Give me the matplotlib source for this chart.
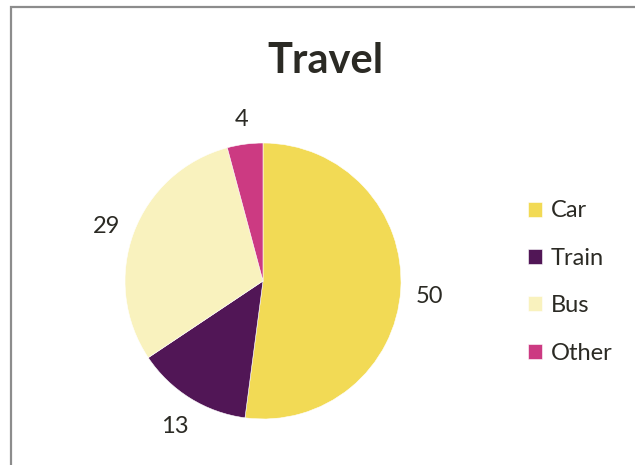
import matplotlib.pyplot as plt
from matplotlib.patches import Rectangle

categories = ['Car', 'Train', 'Bus', 'Other']
values = [50, 13, 29, 4]
colors = ['#f2da55', '#511656', '#f9f2be', '#cc3a82']
title = 'Travel'

plt.rcParams['font.family'] = ['Lato', 'DejaVu Sans']
text_color = '#2b2a24'

fig = plt.figure(figsize=(6.35, 4.65), dpi=100)

# chart border (gray frame, runs off the right and bottom of the image)
fig.patches.append(Rectangle((11 / 635, -0.05), 1.2, 1.05 - 7.5 / 465,
                             transform=fig.transFigure, fill=False,
                             edgecolor='#8c8c8c', linewidth=1.6))

ax = fig.add_axes([125 / 635, 46 / 465, 276 / 635, 276 / 465])
wedges, texts = ax.pie(values, colors=colors, labels=[str(v) for v in values],
                       startangle=90, counterclock=False, labeldistance=1.21,
                       wedgeprops=dict(edgecolor='white', linewidth=0.4),
                       textprops=dict(fontsize=17, color=text_color))
for t in texts:
    t.set_horizontalalignment('center')
    t.set_verticalalignment('center')
    x, y = t.get_position()
    t.set_position((x, y - 0.03))
ax.set_xlim(-1, 1)
ax.set_ylim(-1, 1)
ax.set_aspect('equal')

fig.text(325 / 635, 1 - 61 / 465, title, ha='center', va='center',
         fontsize=30, fontweight='bold', color=text_color)

fig.legend(wedges, categories, loc='center left',
           bbox_to_anchor=(507 / 635, 1 - 282 / 465), frameon=False,
           fontsize=17, handlelength=0.6, handleheight=0.6,
           handletextpad=0.35, labelspacing=1.12, labelcolor=text_color)

fig.savefig('out.png', dpi=100)
